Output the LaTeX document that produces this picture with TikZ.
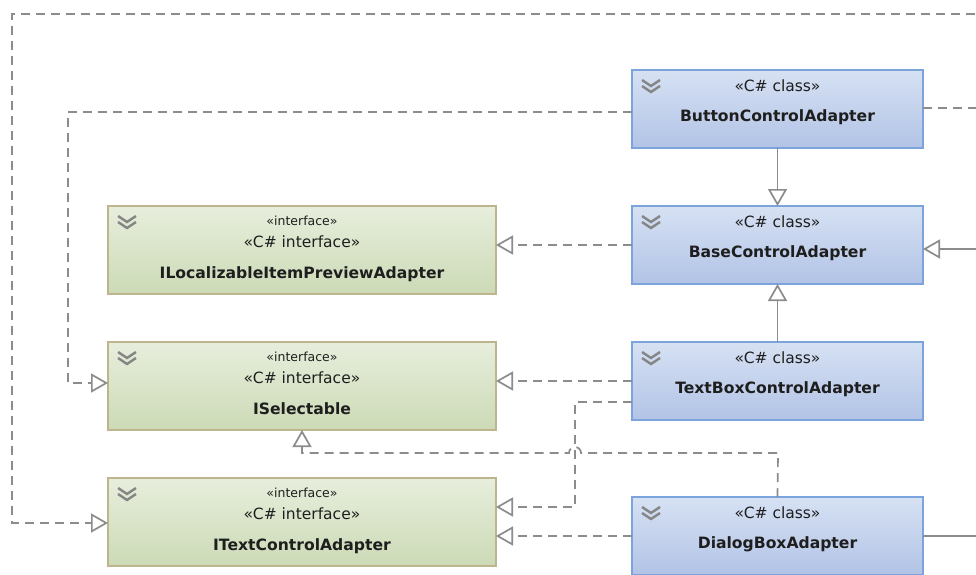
\documentclass[tikz,border=0pt]{standalone}
\usepackage{fontspec}
\setmainfont{DejaVu Sans}
\usepackage{tikz}
\usetikzlibrary{arrows.meta,positioning,calc}

\definecolor{clsTop}{HTML}{D6E1F3}
\definecolor{clsBot}{HTML}{B2C3E6}
\definecolor{clsLine}{HTML}{7CA4DC}
\definecolor{ifcTop}{HTML}{E7EEDC}
\definecolor{ifcBot}{HTML}{CCDAB6}
\definecolor{ifcLine}{HTML}{BDB58E}
\definecolor{lnk}{HTML}{8C8C8C}
\definecolor{txt}{HTML}{1E1E1E}

\begin{document}
\begin{tikzpicture}[
  x=1pt,y=-1pt,>={Triangle[open,length=17pt,width=19pt]},
  cls/.style={draw=clsLine,line width=1.8pt,outer sep=0pt,top color=clsTop,bottom color=clsBot,minimum width=291pt,minimum height=78pt},
  ifc/.style={draw=ifcLine,line width=1.5pt,outer sep=0pt,top color=ifcTop,bottom color=ifcBot,minimum width=388pt,minimum height=88pt},
  stereo/.style={anchor=base,inner sep=0pt,text=txt,font=\fontsize{15.5}{17}\selectfont},
  stereoS/.style={stereo,font=\fontsize{12.5}{14}\selectfont},
  title/.style={anchor=base,inner sep=0pt,text=txt,font=\bfseries\fontsize{15.6}{17}\selectfont},
  chev/.style={draw=gray!95,line width=2.4pt},
  conn/.style={draw=lnk,line width=1.7pt},
  dep/.style={conn,dash pattern=on 9pt off 6pt}
]
\useasboundingbox (0,0) rectangle (976,574);
\fill[white] (0,0) rectangle (976,574);
\clip (0,0) rectangle (976,574);

% classes
\node[cls] (button) at (777.5,109) {};
\node[cls,below=58pt of button] (base) {};
\node[cls,below=58pt of base] (textbox) {};
\node[cls,below=77pt of textbox] (dialog) {};

% interfaces
\node[ifc] (iloc) at (302,250) {};
\node[ifc,below=48pt of iloc] (isel) {};
\node[ifc,below=48pt of isel] (itext) {};

% texts
\node[stereo] (buttonS) at ($(button.north)+(0,21)$) {«C\# class»};
\node[title] (buttonT) at ($(button.north)+(0,51)$) {ButtonControlAdapter};
\node[stereo] (baseS) at ($(base.north)+(0,21)$) {«C\# class»};
\node[title] (baseT) at ($(base.north)+(0,51)$) {BaseControlAdapter};
\node[stereo] (textboxS) at ($(textbox.north)+(0,21)$) {«C\# class»};
\node[title] (textboxT) at ($(textbox.north)+(0,51)$) {TextBoxControlAdapter};
\node[stereo] (dialogS) at ($(dialog.north)+(0,21)$) {«C\# class»};
\node[title] (dialogT) at ($(dialog.north)+(0,51)$) {DialogBoxAdapter};

\node[stereoS] (ilocS) at ($(iloc.north)+(0,19)$) {«interface»};
\node[stereo] (ilocC) at ($(iloc.north)+(0,41)$) {«C\# interface»};
\node[title] (ilocT) at ($(iloc.north)+(0,72)$) {ILocalizableItemPreviewAdapter};
\node[stereoS] (iselS) at ($(isel.north)+(0,19)$) {«interface»};
\node[stereo] (iselC) at ($(isel.north)+(0,41)$) {«C\# interface»};
\node[title] (iselT) at ($(isel.north)+(0,72)$) {ISelectable};
\node[stereoS] (itextS) at ($(itext.north)+(0,19)$) {«interface»};
\node[stereo] (itextC) at ($(itext.north)+(0,41)$) {«C\# interface»};
\node[title] (itextT) at ($(itext.north)+(0,72)$) {ITextControlAdapter};

% collapse icons
\foreach \n in {button,base,textbox,dialog,iloc,isel,itext}{
  \draw[chev] ($(\n.north west)+(10,10)$) -- ++(9,6) -- ++(9,-6);
  \draw[chev] ($(\n.north west)+(10,16)$) -- ++(9,6) -- ++(9,-6);
}

% free ends
\coordinate (topR) at (990,14);
\coordinate (topL) at (12,14);
\coordinate (selL) at (68,383);
\coordinate (btnR) at (990,108);
\coordinate (baseR) at (990,249);
\coordinate (tbBend) at (575,402);
\coordinate (tbDown) at (575,507);
\coordinate (dlgUp) at (778,453);
\coordinate (hopR) at (581,453);
\coordinate (dlgR) at (990,537);

% connectors
\draw[dep,->] (topR) -- (topL) |- ([yshift=-1pt]itext.west);
\draw[dep,->] ([yshift=-3pt]button.west) -| (selL) -- (selL -| isel.west);
\draw[dep] ([yshift=1pt]button.east) -- (btnR);
\draw[conn,->] (button.south) -- (base.north);
\draw[dep,->] (base.west) -- (base.west -| iloc.east);
\draw[conn,->] (baseR) -- (baseR -| base.east);
\draw[conn,->] (textbox.north) -- (base.south);
\draw[dep,->] (textbox.west) -- (textbox.west -| isel.east);
\draw[dep,->] (textbox.west |- tbBend) -- (tbBend) -- (tbDown) -- (tbDown -| itext.east);
\draw[dep,->] (dialog.north) -- (dlgUp) -- (hopR) arc[start angle=0,end angle=180,radius=6pt] -- (isel.south |- dlgUp) -- (isel.south);
\draw[dep,->] (dialog.west) -- (dialog.west -| itext.east);
\draw[conn] (dialog.east) -- (dialog.east -| dlgR);
\end{tikzpicture}
\end{document}
